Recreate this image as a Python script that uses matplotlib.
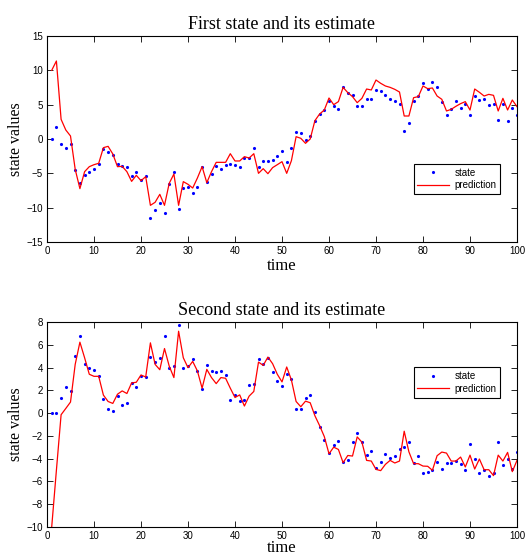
import numpy as np
import matplotlib
matplotlib.use("Agg")
import matplotlib.pyplot as plt

t = list(range(1, 101))

state1 = [0.0, 1.80, -0.68, -1.36, -0.73, -4.47, -6.41, -5.19, -4.85, -4.37,
          -3.64, -1.41, -1.94, -2.33, -3.64, -3.93, -4.08, -5.44, -4.85, -5.97,
          -5.34, -11.46, -10.34, -9.27, -10.83, -6.50, -4.81, -10.15, -7.09, -6.94,
          -7.82, -6.94, -4.13, -6.26, -5.15, -3.93, -4.42, -3.74, -3.69, -3.74,
          -4.13, -2.77, -2.77, -1.31, -4.03, -3.16, -3.16, -3.06, -2.52, -1.70,
          -3.40, -1.31, 1.07, 0.83, -0.15, 0.39, 2.67, 3.59, 4.22, 5.58,
          4.81, 4.32, 7.52, 6.75, 6.46, 4.76, 4.81, 5.78, 5.78, 7.14,
          6.99, 6.46, 5.83, 5.53, 5.10, 1.17, 2.38, 5.53, 6.26, 8.20,
          7.23, 8.35, 7.62, 5.44, 3.50, 4.42, 5.58, 4.51, 5.10, 3.54,
          6.31, 5.68, 5.83, 4.95, 5.05, 2.72, 5.05, 2.67, 4.56, 3.50]

pred1 = [10.0, 11.36, 2.86, 1.31, 0.44, -4.42, -7.23, -4.76, -4.03, -3.74,
         -3.54, -1.26, -1.07, -2.18, -4.03, -3.98, -4.76, -6.17, -5.29, -6.07,
         -5.49, -9.66, -9.22, -8.06, -9.66, -6.46, -5.10, -9.66, -6.21, -6.60,
         -7.14, -5.68, -4.03, -6.36, -4.76, -3.40, -3.40, -3.40, -2.14, -3.20,
         -3.20, -2.57, -2.77, -2.14, -5.00, -4.32, -5.05, -4.17, -3.74, -3.30,
         -5.00, -3.16, 0.34, 0.10, -0.63, 0.00, 2.67, 3.64, 4.22, 5.97,
         5.00, 5.44, 7.52, 6.75, 6.17, 5.29, 5.92, 7.28, 7.14, 8.59,
         8.11, 7.72, 7.52, 7.23, 6.84, 3.35, 3.35, 6.02, 6.17, 7.72,
         7.33, 7.43, 6.26, 5.78, 4.08, 4.32, 4.76, 5.15, 5.44, 4.22,
         7.28, 6.80, 6.26, 6.50, 6.36, 4.08, 5.92, 4.22, 5.68, 4.71]

state2 = [0.0, 0.0, 1.37, 2.27, 1.98, 4.98, 6.78, 4.34, 3.93, 3.78,
          3.29, 1.23, 0.35, 0.18, 1.52, 0.70, 0.88, 2.62, 2.33, 3.23,
          3.17, 4.92, 4.48, 4.80, 6.75, 3.99, 4.16, 7.77, 3.93, 4.13,
          4.77, 3.70, 2.10, 4.19, 3.67, 3.58, 3.70, 3.32, 1.17, 1.58,
          1.08, 1.17, 2.48, 2.53, 4.74, 4.34, 4.80, 3.61, 2.80, 2.42,
          3.41, 3.03, 0.35, 0.35, 1.31, 1.60, 0.12, -1.24, -2.35, -3.50,
          -2.76, -2.49, -4.30, -4.09, -2.58, -1.71, -2.55, -3.69, -3.31, -4.79,
          -4.30, -3.57, -3.92, -3.80, -3.13, -2.99, -2.58, -4.38, -3.74, -5.26,
          -5.14, -4.97, -4.33, -4.94, -4.41, -4.38, -4.21, -4.47, -5.02, -2.73,
          -4.03, -5.26, -4.97, -5.55, -5.26, -2.55, -4.59, -4.01, -4.90, -3.42]

pred2 = [-10.0, -5.02, -0.14, 0.41, 0.97, 4.28, 6.23, 4.86, 3.41, 3.23,
         3.23, 1.58, 1.02, 0.85, 1.66, 1.95, 1.72, 2.65, 2.71, 3.35,
         3.17, 6.17, 4.28, 3.81, 5.67, 4.13, 3.12, 7.19, 4.86, 3.99,
         4.54, 3.70, 2.19, 3.84, 3.12, 2.59, 3.12, 3.06, 2.19, 1.37,
         1.60, 0.62, 1.49, 1.90, 4.48, 4.19, 4.92, 4.34, 3.41, 2.74,
         4.05, 2.91, 1.02, 0.56, 1.05, 0.91, -0.23, -1.10, -2.06, -3.57,
         -2.99, -3.19, -4.35, -3.72, -3.77, -2.09, -2.55, -4.15, -4.21, -4.94,
         -5.05, -4.50, -4.15, -4.38, -4.21, -1.59, -3.40, -4.44, -4.44, -4.65,
         -4.67, -5.02, -3.74, -3.42, -3.51, -4.21, -4.21, -3.86, -4.73, -3.69,
         -4.91, -4.03, -4.97, -4.97, -5.49, -3.69, -4.21, -3.45, -5.14, -4.15]

titles = ["First state and its estimate", "Second state and its estimate"]
yticks1 = [-15, -10, -5, 0, 5, 10, 15]
yticks2 = [-10, -8, -6, -4, -2, 0, 2, 4, 6, 8]
xticks = list(range(0, 101, 10))

serif = "Liberation Serif"
sans = "Liberation Sans"

fig = plt.figure(figsize=(5.25, 5.58), dpi=100)
ax1 = fig.add_axes([47/525, 1-242/558, 470/525, 206/558])
ax2 = fig.add_axes([47/525, 1-527/558, 470/525, 205/558])

configs = [
    (ax1, state1, pred1, titles[0], (-15, 15), yticks1, (0.780, 0.379), 1),
    (ax2, state2, pred2, titles[1], (-10, 8), yticks2, (0.780, 0.779), -1),
]

for ax, s, p, title, ylim, yt, anchor, lp in configs:
    ax.plot(t, s, linestyle='none', marker='.', markersize=2.5, color='#0000ff', label='state')
    ax.plot(t, p, color='#ff0000', linewidth=0.9, label='prediction')
    ax.set_xlim(0, 100)
    ax.set_ylim(*ylim)
    ax.set_xticks(xticks)
    ax.set_yticks(yt)
    ax.tick_params(direction='in', top=True, right=True, length=4, width=0.6,
                   labelsize=7, pad=3)
    for lab in ax.get_xticklabels() + ax.get_yticklabels():
        lab.set_fontfamily(sans)
    for sp in ax.spines.values():
        sp.set_linewidth(0.8)
    ax.set_title(title, fontfamily=serif, fontsize=13, pad=5)
    ax.set_xlabel('time', fontfamily=serif, fontsize=12, labelpad=lp)
    ax.set_ylabel('state values', fontfamily=serif, fontsize=11.5, labelpad=2)
    leg = ax.legend(loc='upper left', bbox_to_anchor=anchor, borderaxespad=0,
                    prop={'family': sans, 'size': 7}, fancybox=False,
                    edgecolor='black', framealpha=1, handlelength=3.2,
                    handletextpad=0.6, borderpad=0.4, labelspacing=0.25,
                    markerscale=1.0)
    leg.get_frame().set_linewidth(0.8)

fig.savefig("out.png", dpi=100)
